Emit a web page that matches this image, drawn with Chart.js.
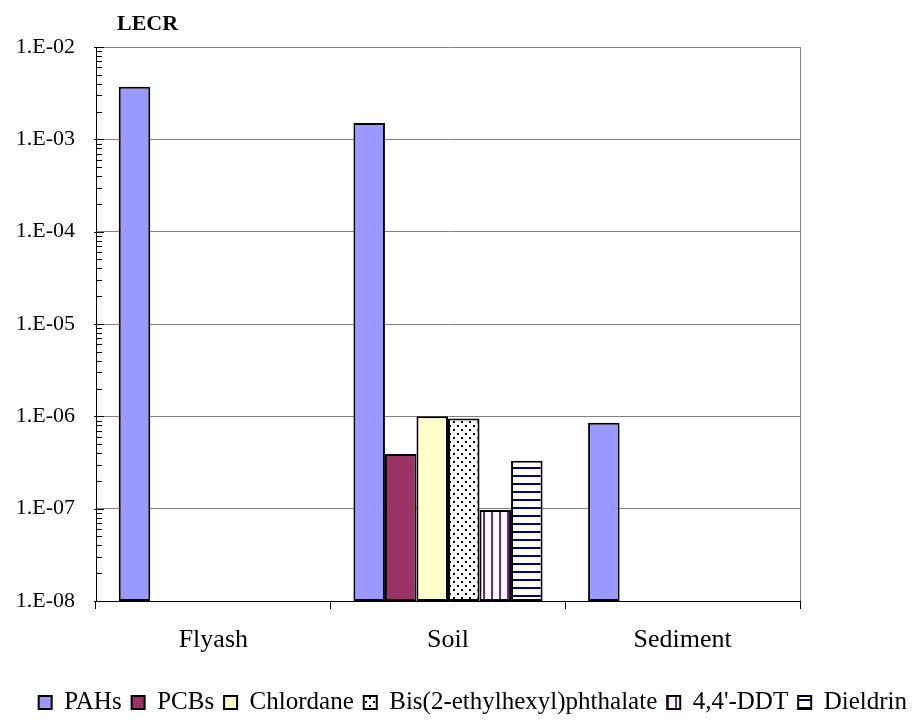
<!DOCTYPE html>
<html>
<head>
<meta charset="utf-8">
<script src="https://cdn.jsdelivr.net/npm/chart.js@4/dist/chart.umd.min.js"></script>
<style>
  html, body { margin: 0; padding: 0; background: #fff; }
  #wrap { width: 917px; height: 725px; }
</style>
</head>
<body>
<div id="wrap"><canvas id="lecrChart" width="917" height="725"></canvas></div>
<script>
// categories and series values (LECR, log scale)
let sites = ["Flyash", "Soil", "Sediment"];
let seriesNames = ["PAHs", "PCBs", "Chlordane", "Bis(2-ethylhexyl)phthalate", "4,4'-DDT", "Dieldrin"];
let pahs = [3.7e-3, 1.5e-3, 8.5e-7];
let pcbs = [null, 3.9e-7, null];
let chlordane = [null, 1.0e-6, null];
let bisPhthalate = [null, 9.5e-7, null];
let ddt = [null, 9.7e-8, null];
let dieldrin = [null, 3.3e-7, null];
let yTicks = [1e-8, 1e-7, 1e-6, 1e-5, 1e-4, 1e-3, 1e-2];
let yTickLabels = ["1.E-08", "1.E-07", "1.E-06", "1.E-05", "1.E-04", "1.E-03", "1.E-02"];

let makePattern = (drawTile, size) => {
      let c = document.createElement("canvas");
      c.width = size;
      c.height = size;
      let g = c.getContext("2d");
      g.fillStyle = "#ffffff";
      g.fillRect(0, 0, size, size);
      drawTile(g);
      return document.getElementById("lecrChart").getContext("2d").createPattern(c, "repeat");
};

let dotsPattern = makePattern((g) => {
      g.fillStyle = "#000000";
      g.fillRect(1, 1, 2, 2);
      g.fillRect(5, 5, 2, 2);
}, 8);

let vStripePattern = makePattern((g) => {
      g.fillStyle = "#80207f";
      g.fillRect(3, 0, 2, 8);
}, 8);

let hStripePattern = makePattern((g) => {
      g.fillStyle = "#000080";
      g.fillRect(0, 3, 8, 2);
}, 8);

let fills = ["#9999ff", "#993366", "#ffffcc", dotsPattern, vStripePattern, hStripePattern];
let values = [pahs, pcbs, chlordane, bisPhthalate, ddt, dieldrin];

// minor ticks inside the y axis, right border, and the LECR label
let extras = {
      id: "extras",
      afterDraw: (chart) => {
            let ctx = chart.ctx;
            let area = chart.chartArea;
            let y = chart.scales.y;
            ctx.save();
            ctx.strokeStyle = "#000000";
            ctx.lineWidth = 1;
            for (var e = -8; e < -2; e++) {
                  for (var m = 2; m <= 9; m++) {
                        let py = Math.round(y.getPixelForValue(m * Math.pow(10, e))) + 0.5;
                        ctx.beginPath();
                        ctx.moveTo(area.left, py);
                        ctx.lineTo(area.left + 6, py);
                        ctx.stroke();
                  }
            }
            yTicks.forEach((v) => {
                  let py = Math.round(y.getPixelForValue(v)) + 0.5;
                  ctx.beginPath();
                  ctx.moveTo(area.left - 2, py);
                  ctx.lineTo(area.left + 8, py);
                  ctx.stroke();
            });
            ctx.strokeStyle = "#808080";
            ctx.beginPath();
            ctx.moveTo(area.right + 0.5, area.top);
            ctx.lineTo(area.right + 0.5, area.bottom);
            ctx.stroke();
            ctx.fillStyle = "#000000";
            ctx.font = "bold 22px 'Liberation Serif'";
            ctx.textBaseline = "alphabetic";
            ctx.fillText("LECR", area.left + 21, area.top - 17);
            ctx.restore();
      }
};

new Chart(document.getElementById("lecrChart"), {
      type: "bar",
      data: {
            labels: sites,
            datasets: seriesNames.map((name, i) => ({
                  label: name,
                  data: values[i],
                  backgroundColor: fills[i],
                  borderColor: "#000000",
                  borderWidth: 2,
                  borderSkipped: false,
                  barPercentage: 1,
                  categoryPercentage: 0.806
            }))
      },
      options: {
            responsive: false,
            animation: false,
            layout: { padding: { top: 47, right: 0, bottom: 0, left: 0 } },
            plugins: {
                  legend: {
                        position: "bottom",
                        align: "end",
                        labels: {
                              boxWidth: 13,
                              boxHeight: 13,
                              padding: 10,
                              color: "#000000",
                              font: { family: "'Liberation Serif'", size: 25 }
                        }
                  },
                  title: { display: false },
                  tooltip: { enabled: false }
            },
            scales: {
                  x: {
                        grid: {
                              offset: true,
                              drawOnChartArea: false,
                              drawTicks: true,
                              tickLength: 8,
                              color: "#000000"
                        },
                        border: { color: "#000000", width: 1 },
                        ticks: {
                              color: "#000000",
                              padding: 16,
                              font: { family: "'Liberation Serif'", size: 26 }
                        },
                        afterFit: (scale) => { scale.height = 79; }
                  },
                  y: {
                        type: "logarithmic",
                        min: 1e-8,
                        max: 1e-2,
                        afterBuildTicks: (scale) => {
                              scale.ticks = yTicks.map((v) => ({ value: v }));
                        },
                        grid: {
                              color: "#808080",
                              lineWidth: 1,
                              drawTicks: false
                        },
                        border: { color: "#000000", width: 1 },
                        ticks: {
                              color: "#000000",
                              padding: 21,
                              font: { family: "'Liberation Serif'", size: 22 },
                              callback: (v) => {
                                    let idx = yTicks.findIndex((t) => Math.abs(Math.log10(t) - Math.log10(v)) < 1e-6);
                                    return idx >= 0 ? yTickLabels[idx] : "";
                              }
                        },
                        afterFit: (scale) => { scale.width = 96; }
                  },
                  // empty axis that only keeps the blank strip right of the plot
                  spacer: {
                        type: "linear",
                        position: "right",
                        grid: { display: false },
                        border: { display: false },
                        ticks: { display: false },
                        afterFit: (scale) => { scale.width = 117; }
                  }
            }
      },
      plugins: [extras]
});
</script>
</body>
</html>
